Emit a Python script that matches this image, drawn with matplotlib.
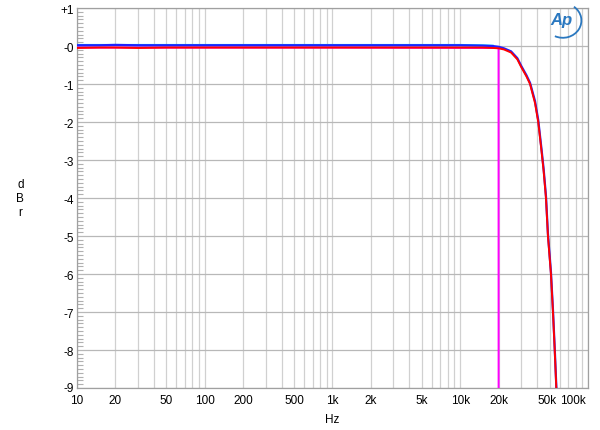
import matplotlib.pyplot as plt
from matplotlib.patches import Arc
from matplotlib.transforms import ScaledTranslation
from matplotlib.ticker import FixedLocator, NullFormatter

plt.rcParams['font.family'] = ['Liberation Sans', 'DejaVu Sans']

# frequency response
freq = [10, 15, 20, 30, 50, 100, 200, 500, 1000, 2000, 5000, 10000, 15000,
        18000, 20000, 22000, 25000, 28000, 30000, 33000, 35200, 38500, 40800,
        43400, 45000, 46900, 48600, 51300, 53200, 54900, 56500, 60000]
left_db = [-0.05, -0.04, -0.04, -0.05, -0.04, -0.04, -0.04, -0.04, -0.04, -0.04,
           -0.04, -0.04, -0.04, -0.05, -0.06, -0.09, -0.17, -0.35, -0.55, -0.8,
           -1.0, -1.5, -2.0, -2.8, -3.3, -4.0, -5.0, -6.0, -7.0, -8.0, -9.0, -11.0]
right_db = [0.02, 0.02, 0.03, 0.02, 0.02, 0.02, 0.02, 0.02, 0.02, 0.02,
            0.02, 0.02, 0.01, 0.0, -0.02, -0.06, -0.14, -0.32, -0.52, -0.77,
            -0.97, -1.45, -1.95, -2.75, -3.25, -3.95, -4.95, -5.95, -6.95, -7.95, -8.95, -11.0]
cyan_db = [0.03, 0.03, 0.03, 0.03, 0.03, 0.03, 0.03, 0.03, 0.03, 0.03,
           0.03, 0.03, 0.02, 0.01]
brick_freq = [10, 1000, 19900, 19950, 20000]
brick_db = [-0.04, -0.04, -0.05, -0.06, -20]

xticks = [10, 20, 50, 100, 200, 500, 1000, 2000, 5000, 10000, 20000, 50000, 100000]
xlabels = ['10', '20', '50', '100', '200', '500', '1k', '2k', '5k', '10k', '20k', '50k', '100k']
yticks = [1, 0, -1, -2, -3, -4, -5, -6, -7, -8, -9]
ylabels = ['+1', '-0', '-1', '-2', '-3', '-4', '-5', '-6', '-7', '-8', '-9']

fig = plt.figure(figsize=(6, 4.31), dpi=100)
ax = fig.add_axes([0.128, 0.0974, 0.852, 0.8816])

ax.plot(brick_freq, brick_db, color='#ff00ff', lw=1.4, zorder=3)
ax.plot(freq[:len(cyan_db)], cyan_db, color='#00c8ff', lw=1.4, zorder=4)
ax.plot(freq, right_db, color='#2020ff', lw=1.6, zorder=5)
ax.plot(freq, left_db, color='#ff0000', lw=1.4, zorder=6)

ax.set_xscale('log')
ax.set_xlim(10, 100000)
ax.set_ylim(-9, 1)

ax.set_xticks(xticks)
ax.set_xticklabels(xlabels)
minor_x = [m * 10 ** d for d in range(1, 5) for m in range(2, 10)]
ax.xaxis.set_minor_locator(FixedLocator(minor_x))
ax.xaxis.set_minor_formatter(NullFormatter())
ax.set_yticks(yticks)
ax.set_yticklabels(ylabels)
ax.yaxis.set_minor_locator(FixedLocator([-9 + i * 0.1 for i in range(101)]))

ax.tick_params(axis='x', which='major', labelsize=8.5, length=0, pad=4)
ax.tick_params(axis='y', which='major', labelsize=8.5, length=0, pad=2)
ax.tick_params(axis='x', which='minor', length=0)
ax.tick_params(axis='y', which='minor', direction='in', length=4, color='#b0b0b0', width=0.8)

# nudge end labels like the original (offsets in pixels)
lab = ax.yaxis.get_major_ticks()[-1].label1
lab.set_transform(lab.get_transform() + ScaledTranslation(0, 2 / 100, fig.dpi_scale_trans))
lab = ax.xaxis.get_major_ticks()[-1].label1
lab.set_transform(lab.get_transform() + ScaledTranslation(-15 / 100, 0, fig.dpi_scale_trans))
lab = ax.xaxis.get_major_ticks()[-2].label1
lab.set_transform(lab.get_transform() + ScaledTranslation(-2 / 100, 0, fig.dpi_scale_trans))

ax.grid(True, which='major', axis='y', color='#b8b8b8', lw=0.9)
ax.grid(True, which='both', axis='x', color='#d0d0d0', lw=0.9)
for s in ax.spines.values():
    s.set_color('#a0a0a0')
    s.set_linewidth(0.9)

ax.set_xlabel('Hz', fontsize=8.5, labelpad=5)
fig.text(0.034, 0.538, 'd\nB\nr', fontsize=8.5, ha='center', va='center', linespacing=1.25)

# Ap logo
fig.text(0.935, 0.952, 'Ap', fontsize=12, style='italic', fontweight='bold',
         color='#2a78c0', ha='center', va='center')
logo = Arc((0.938, 0.950), 0.062, 0.08, theta1=-110, theta2=60, color='#2a78c0', lw=1.3,
           transform=fig.transFigure)
fig.add_artist(logo)

fig.savefig('out.png', dpi=100)
